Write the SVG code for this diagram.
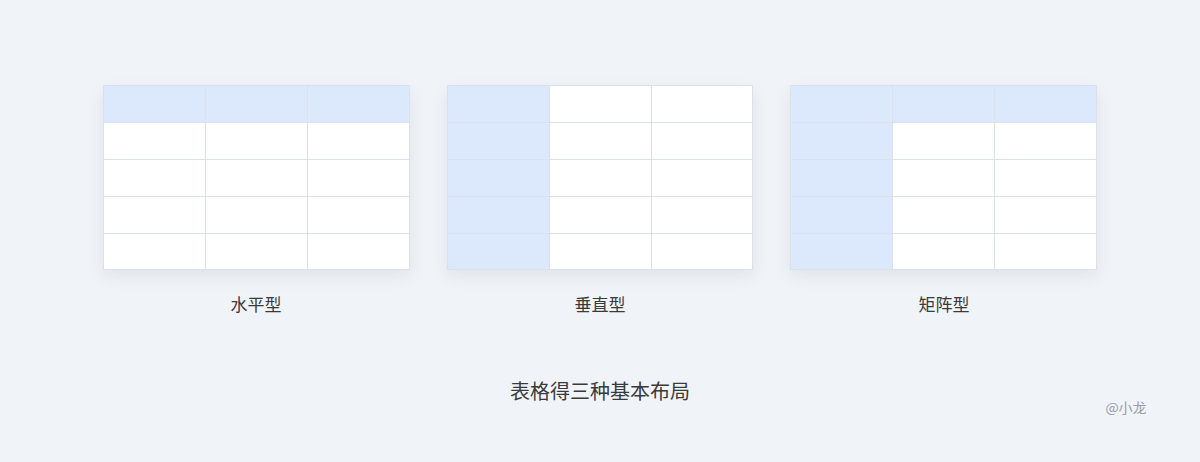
<svg xmlns="http://www.w3.org/2000/svg" width="1200" height="462" viewBox="0 0 1200 462">
<defs>
<filter id="sh" x="-20%" y="-20%" width="140%" height="150%">
<feGaussianBlur in="SourceAlpha" stdDeviation="9"/>
<feOffset dy="6"/>
<feComponentTransfer><feFuncA type="linear" slope="0.08"/></feComponentTransfer>
<feMerge><feMergeNode/><feMergeNode in="SourceGraphic"/></feMerge>
</filter>
<style>
.bg{fill:#f0f4f9}
.base{fill:#ffffff}
.card{fill:none;stroke:#d9e1ea;stroke-width:1}
.hd{fill:#dce8fc}
.ln{stroke:#d9e1ea;stroke-width:1;fill:none}
.lbl{font-family:"Noto Sans CJK SC","Noto Sans",sans-serif;font-size:17px;fill:#3a3a3a;text-anchor:middle}
.ttl{font-family:"Noto Sans CJK SC","Noto Sans",sans-serif;font-size:20px;fill:#3a3a3a;text-anchor:middle}
.sig{font-family:"Noto Sans CJK SC","Noto Sans",sans-serif;font-size:14px;fill:#9a9ea6;text-anchor:middle}
</style>
</defs>
<rect class="bg" x="0" y="0" width="1200" height="462"/>

<g id="table-horizontal">
<rect class="base" x="103.5" y="85.5" width="306" height="184" filter="url(#sh)"/>
<rect class="hd" x="103.5" y="85.5" width="306" height="37"/>
<path class="ln" d="M103.5 122.5H409.5M103.5 159.5H409.5M103.5 196.5H409.5M103.5 233.5H409.5M205.5 85.5V269.5M307.5 85.5V269.5"/>
<rect class="card" x="103.5" y="85.5" width="306" height="184"/>
<text class="lbl" x="256" y="311">水平型</text>
</g>

<g id="table-vertical">
<rect class="base" x="447.5" y="85.5" width="305" height="184" filter="url(#sh)"/>
<rect class="hd" x="447.5" y="85.5" width="102" height="184"/>
<path class="ln" d="M447.5 122.5H752.5M447.5 159.5H752.5M447.5 196.5H752.5M447.5 233.5H752.5M549.5 85.5V269.5M651.5 85.5V269.5"/>
<rect class="card" x="447.5" y="85.5" width="305" height="184"/>
<text class="lbl" x="600" y="311">垂直型</text>
</g>

<g id="table-matrix">
<rect class="base" x="790.5" y="85.5" width="306" height="184" filter="url(#sh)"/>
<rect class="hd" x="790.5" y="85.5" width="306" height="37"/>
<rect class="hd" x="790.5" y="85.5" width="102" height="184"/>
<path class="ln" d="M790.5 122.5H1096.5M790.5 159.5H1096.5M790.5 196.5H1096.5M790.5 233.5H1096.5M892.5 85.5V269.5M994.5 85.5V269.5"/>
<rect class="card" x="790.5" y="85.5" width="306" height="184"/>
<text class="lbl" x="944" y="311">矩阵型</text>
</g>

<g id="connectors"></g>

<text class="ttl" x="600" y="399">表格得三种基本布局</text>
<text class="sig" x="1126" y="413">@小龙</text>
</svg>
